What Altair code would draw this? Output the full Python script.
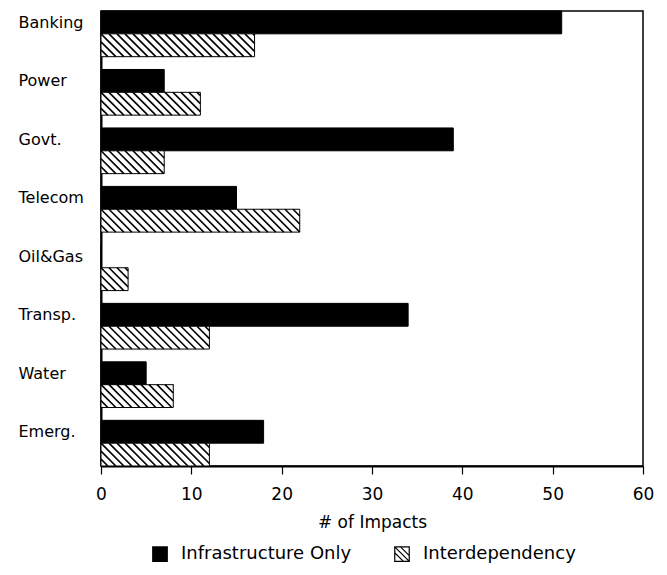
import json
import altair as alt
import pandas as pd

categories = ["Banking", "Power", "Govt.", "Telecom", "Oil&Gas", "Transp.", "Water", "Emerg."]
infrastructure_only = [51, 7, 39, 15, 0, 34, 5, 18]
interdependency = [17, 11, 7, 22, 3, 12, 8, 12]
series_names = ["Infrastructure Only", "Interdependency"]
x_ticks = [0, 10, 20, 30, 40, 50, 60]

# layout constants
W, H = 542, 455
XMAX = 60
STEP = 2.56                       # group step, in bar-height units
YMAX = (len(categories) - 1) * STEP + 2
FONT = "DejaVu Sans"

rows = []
for i, c in enumerate(categories):
    for j, (s, vals) in enumerate(zip(series_names, [infrastructure_only, interdependency])):
        top = i * STEP + j
        rows.append(dict(category=c, series=s, value=vals[i], zero=0, top=top, bottom=top + 1))
bars = pd.DataFrame(rows)

# hatch stripes for the interdependency bars, derived from the bar table
px_x = W / XMAX
px_y = H / YMAX
d = px_y / px_x          # 45 degree slant across one bar height, in x units
sp = 8 / px_x            # stripe spacing
stripes = []
for r in bars[bars.series == "Interdependency"].itertuples():
    v = r.value
    k = int(-d // sp) - 1
    while k * sp < v:
        xt = k * sp
        xs = max(xt, 0.0)
        xe = min(xt + d, v)
        if xe > xs:
            stripes.append(dict(xa=xs, xb=xe,
                                ya=r.top + (xs - xt) / d,
                                yb=r.top + (xe - xt) / d))
        k += 1
stripes = pd.DataFrame(stripes)

xscale = alt.Scale(domain=[0, XMAX], nice=False, zero=False)
yscale = alt.Scale(domain=[0, YMAX], reverse=True, nice=False, zero=False)

label_expr = f"{json.dumps(categories)}[round((datum.value - 0.5) / {STEP})]"
xaxis = alt.Axis(values=x_ticks, title="# of Impacts", grid=False, domainColor="black",
                 domainWidth=2, tickColor="black", tickWidth=1.2, tickSize=8,
                 labelPadding=12, labelFontSize=17, labelColor="black", labelFlush=False,
                 titleFontSize=17, titleColor="black", titleFontWeight="normal",
                 titlePadding=12)
yaxis = alt.Axis(values=[i * STEP + 0.5 for i in range(len(categories))], labelExpr=label_expr,
                 title=None, grid=False, ticks=False, domainColor="black", domainWidth=2,
                 labelAlign="left", labelPadding=83, labelFontSize=16, labelColor="black")

hatch_symbol = ("M-1,-1H1V1H-1Z M-1,-1L1,1 M-0.2,-1L1,0.2 M-1,-0.2L0.2,1")

bar_layer = alt.Chart(bars).mark_bar(stroke="black", strokeWidth=1).encode(
    x=alt.X("value:Q", scale=xscale, axis=xaxis),
    x2="zero:Q",
    y=alt.Y("top:Q", scale=yscale, axis=yaxis),
    y2="bottom:Q",
    fill=alt.Fill("series:N", scale=alt.Scale(domain=series_names, range=["black", "white"]),
                  legend=alt.Legend(title=None, orient="none", direction="horizontal",
                                    legendX=50, legendY=534, padding=0,
                                    symbolType=hatch_symbol, symbolSize=210,
                                    symbolStrokeColor="black", symbolStrokeWidth=1.2,
                                    labelFontSize=18, labelColor="black", labelLimit=400,
                                    labelOffset=12, columnPadding=40)),
)

stripe_layer = alt.Chart(stripes).mark_rule(color="black", strokeWidth=1.6).encode(
    x=alt.X("xa:Q", scale=xscale, axis=xaxis),
    x2="xb:Q",
    y=alt.Y("ya:Q", scale=yscale, axis=yaxis),
    y2="yb:Q",
)

chart = alt.layer(bar_layer, stripe_layer).properties(
    width=W, height=H,
    autosize="none",
    padding={"left": 93, "top": 3, "right": 16, "bottom": 105},
).configure(font=FONT).configure_view(stroke="black", strokeWidth=1.5)

chart.save("out.html", embed_options={"renderer": "svg", "actions": False})
